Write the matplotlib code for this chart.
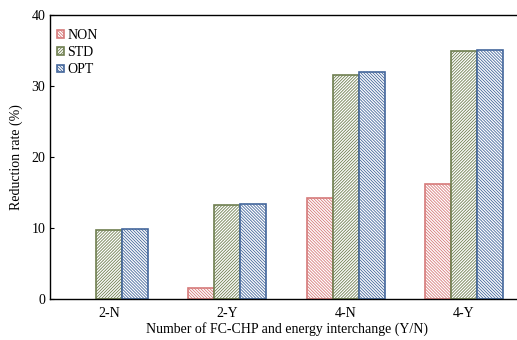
import numpy as np
import matplotlib
matplotlib.use('Agg')
import matplotlib.pyplot as plt

plt.rcParams['font.family'] = ['Liberation Serif', 'DejaVu Serif']
plt.rcParams['hatch.linewidth'] = 0.6

# data
categories = ['2-N', '2-Y', '4-N', '4-Y']
non_vals = [0.0, 1.55, 14.2, 16.2]
std_vals = [9.7, 13.2, 31.6, 35.0]
opt_vals = [9.85, 13.4, 32.0, 35.1]

series = [('NON', non_vals, '#d67a7a', '\\' * 11),
          ('STD', std_vals, '#6f7f50', '/' * 11),
          ('OPT', opt_vals, '#44679c', '\\' * 11)]

fig = plt.figure(figsize=(5.17, 3.4), dpi=100)
ax = fig.add_axes([0.0967, 0.1206, 0.915, 0.835])

x = np.arange(len(categories))
w = 0.22
for i, (name, vals, col, hatch) in enumerate(series):
    vals = np.array(vals, dtype=float)
    # a zero value draws no bar at all in the original
    heights = np.where(vals > 0, vals, np.nan)
    ax.bar(x + (i - 1) * w, heights, w, facecolor='white', edgecolor=col,
           hatch=hatch, linewidth=1.2, label=name)

ax.set_xlim(-0.5, 3.5)
ax.set_ylim(0, 40)
ax.set_yticks([0, 10, 20, 30, 40])
ax.set_xticks(x)
ax.set_xticklabels(categories)
ax.tick_params(axis='y', direction='in', length=3, labelsize=10, width=0.8)
ax.tick_params(axis='x', length=0, labelsize=10, pad=6)
ax.spines['right'].set_visible(False)
for s in ['left', 'top', 'bottom']:
    ax.spines[s].set_linewidth(1.0)

ax.set_ylabel('Reduction rate (%)', fontsize=10, labelpad=6)
ax.set_xlabel('Number of FC-CHP and energy interchange (Y/N)', fontsize=10, labelpad=1)

ax.legend(loc='upper left', bbox_to_anchor=(-0.005, 0.985), frameon=False, fontsize=10,
          handlelength=0.5, handleheight=0.5, handletextpad=0.2, labelspacing=0.3,
          borderaxespad=0.3)

fig.savefig('out.png', dpi=100)
